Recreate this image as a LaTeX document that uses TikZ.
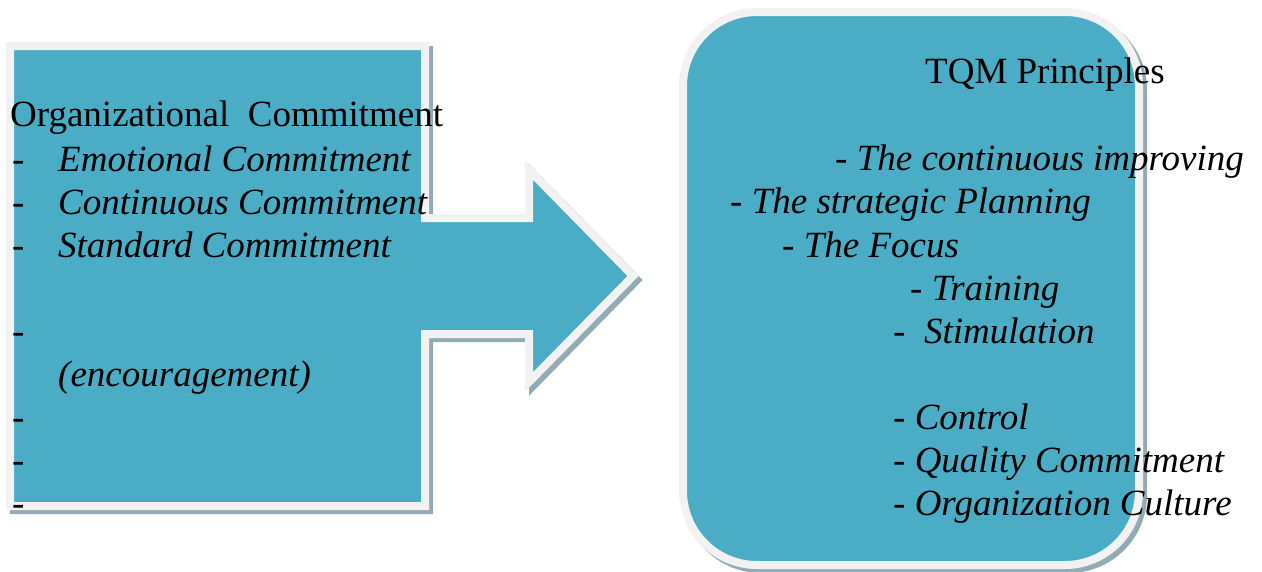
\documentclass[tikz,border=0pt]{standalone}
\usepackage{fontspec}
\setmainfont{Liberation Serif}
\usepackage{tikz}
\usetikzlibrary{positioning}
\definecolor{panelblue}{HTML}{4BACC6}
\definecolor{rimgray}{HTML}{F2F2F2}
\definecolor{shadowgray}{HTML}{93ABB4}
\tikzstyle{panel}=[
	fill=panelblue,
	draw=rimgray,
	line width=8,
	line join=miter]
\tikzstyle{panelshadow}=[
	fill=shadowgray,
	draw=shadowgray,
	line width=8,
	line join=miter]
\tikzstyle{txt}=[
	anchor=base west,
	inner sep=0,
	font=\fontsize{37}{43}\selectfont]
\tikzstyle{itm}=[
	txt,
	font=\fontsize{37}{43}\selectfont\itshape]

\begin{document}
\begin{tikzpicture}[x=1pt,y=-1pt]
		\useasboundingbox (0,0) rectangle (1262,571);
		% left arrow
		\begin{scope}[shift={(4,4)}]
			\path[panelshadow] (10,46) -- (425,46) -- (425,218) -- (529,218) -- (529,170)
				-- (633,276) -- (529,382) -- (529,334) -- (425,334) -- (425,506) -- (10,506) -- cycle;
		\end{scope}
		\path[panel] (10,46) -- (425,46) -- (425,218) -- (529,218) -- (529,170)
			-- (633,276) -- (529,382) -- (529,334) -- (425,334) -- (425,506) -- (10,506) -- cycle;
		% right box
		\path[panelshadow,rounded corners=74] (687,16) rectangle (1143,569);
		\path[panel,rounded corners=74] (683,12) rectangle (1139,565);

		\node[txt] (orgc) at (10,126) {Organizational~ Commitment};
		\node[txt] (d1) at (12,171) {-};
		\node[itm] (emot) at (58,171) {Emotional Commitment};
		\node[txt] (d2) at (12,214) {-};
		\node[itm] (cont) at (58,214) {Continuous Commitment};
		\node[txt] (d3) at (12,257) {-};
		\node[itm] (stand) at (58,257) {Standard Commitment};
		\node[txt] (d4) at (12,343) {-};
		\node[itm] (enc) at (58,386) {(encouragement)};
		\node[txt] (d5) at (12,429) {-};
		\node[txt] (d6) at (12,472) {-};
		\node[txt] (d7) at (12,515) {-};

		\node[txt] (tqm) at (925,83) {TQM Principles};
		\node[itm] (impr) at (835,170) {- The continuous improving};
		\node[itm] (plan) at (730,213) {- The strategic Planning};
		\node[itm] (focus) at (782,257) {- The Focus};
		\node[itm] (train) at (910,300) {- Training};
		\node[itm] (stim) at (893,343) {-~ Stimulation};
		\node[itm] (ctrl) at (893,429) {- Control};
		\node[itm] (qual) at (893,472) {- Quality Commitment};
		\node[itm] (cult) at (893,515) {- Organization Culture};
	\end{tikzpicture}
\end{document}
